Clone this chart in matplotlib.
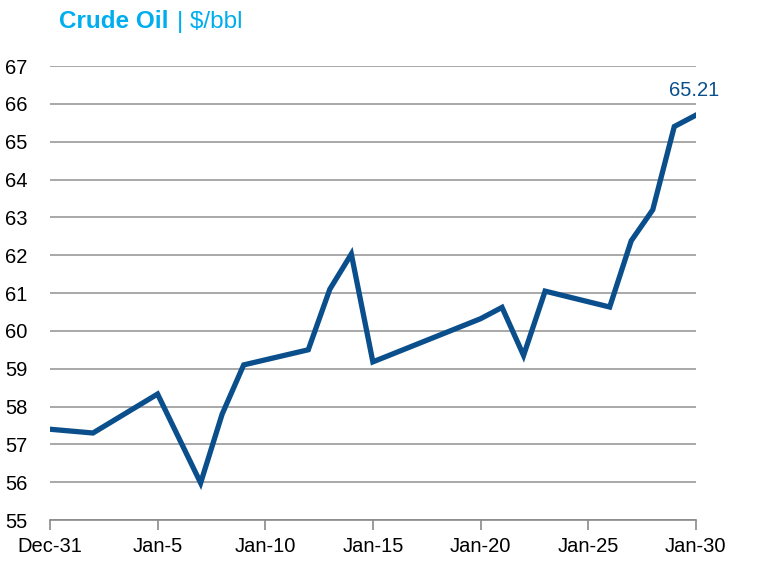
import numpy as np
import matplotlib
matplotlib.use("Agg")
import matplotlib.pyplot as plt

plt.rcParams['font.family'] = ['Liberation Sans', 'DejaVu Sans']

# days after Dec-31
days = [0, 2, 5, 7, 8, 9, 12, 13, 14, 15, 20, 21, 22, 23, 26, 27, 28, 29, 30]
price = [57.4, 57.3, 58.33, 55.98, 57.8, 59.1, 59.5, 61.1, 62.03, 59.18,
         60.32, 60.62, 59.35, 61.05, 60.63, 62.38, 63.2, 65.4, 65.7]
tick_days = [0, 5, 10, 15, 20, 25, 30]
tick_labels = ["Dec-31", "Jan-5", "Jan-10", "Jan-15", "Jan-20", "Jan-25", "Jan-30"]
last_label = "65.21"

line_col = "#0A4F8C"
title_col = "#00AEEF"

fig = plt.figure(figsize=(7.68, 5.78), dpi=100)
ax = fig.add_axes([0.065, 0.1003, 0.841, 0.7855])

ax.plot(days, price, color=line_col, lw=3.8, solid_joinstyle='miter')

ax.set_xlim(0, 30)
ax.set_ylim(55, 67)
ax.set_yticks(range(55, 68))
ax.set_xticks(tick_days)
ax.set_xticklabels(tick_labels)
ax.grid(axis='y', color='#9a9a9a', lw=1.2)
ax.set_axisbelow(True)
for s in ['left', 'right', 'top']:
    ax.spines[s].set_visible(False)
ax.spines['bottom'].set_color('#8a8a8a')
ax.spines['bottom'].set_linewidth(1.2)
ax.tick_params(axis='y', length=0, labelsize=14.5, pad=16)
ax.tick_params(axis='x', length=7, width=1.2, color='#8a8a8a', labelsize=14.5, pad=5, direction='out')

ax.annotate(last_label, xy=(days[-1], price[-1]), xytext=(17, 18),
            textcoords='offset points', color=line_col, fontsize=14.5,
            ha='right', va='center')

fig.text(0.077, 0.962, "Crude Oil", color=title_col, fontsize=17.5, fontweight='bold', va='center')
fig.text(0.23, 0.962, "| $/bbl", color=title_col, fontsize=17.5, va='center')

fig.savefig("out.png", dpi=100)
